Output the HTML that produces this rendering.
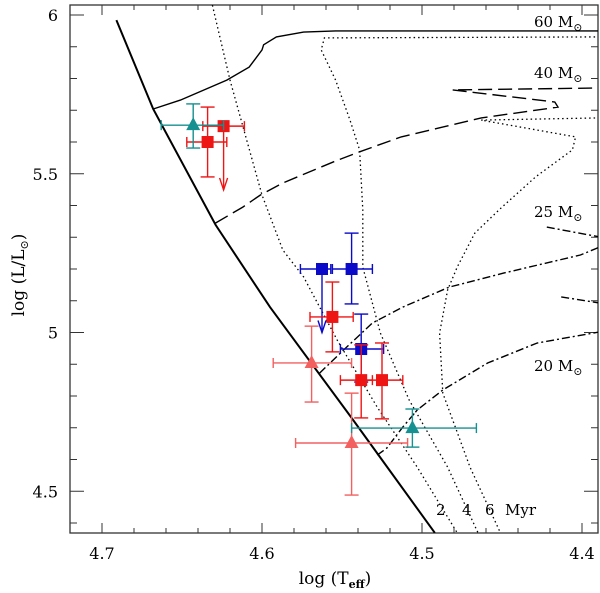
<!DOCTYPE html>
<html><head><meta charset="utf-8"><style>
body{margin:0;background:#fff}
svg{display:block;font-family:"DejaVu Serif","Liberation Serif",serif}
</style></head><body>
<svg id="c" width="600" height="593" viewBox="0 0 600 593" xmlns="http://www.w3.org/2000/svg">
<defs><clipPath id="pc"><rect x="70" y="5" width="528" height="528"/></clipPath></defs>
<g id="axes"></g>
<g id="curves" clip-path="url(#pc)"></g>
<g id="pts"></g>
<text x="534" y="27" font-size="15">60 M<tspan font-size="11" dy="4">⊙</tspan></text>
<text x="534" y="78" font-size="15">40 M<tspan font-size="11" dy="4">⊙</tspan></text>
<text x="534" y="217" font-size="15">25 M<tspan font-size="11" dy="4">⊙</tspan></text>
<text x="534" y="371" font-size="15">20 M<tspan font-size="11" dy="4">⊙</tspan></text>
<g font-size="15">
<text x="436" y="515">2</text><text x="462" y="515">4</text><text x="485" y="515">6</text><text x="505" y="515">Myr</text>
</g>
<text x="335" y="584" font-size="17" text-anchor="middle">log  (T<tspan font-size="11" dy="4" font-weight="bold">eff</tspan><tspan dy="-4">)</tspan></text>
<text transform="translate(24,275) rotate(-90)" font-size="17" text-anchor="middle">log  (L/L<tspan font-size="11" dy="4">⊙</tspan><tspan dy="-4">)</tspan></text>
</svg>
<script>
const xTicks=[4.7,4.6,4.5,4.4];
const yTicks=[6,5.5,5,4.5];
const zams=[[4.691,5.984],[4.668,5.704],[4.629,5.339],[4.595,5.080],[4.544,4.731],[4.492,4.369]];
const track60=[[4.668,5.704],[4.651,5.732],[4.622,5.795],[4.608,5.836],[4.600,5.890],[4.599,5.906],[4.591,5.931],[4.574,5.946],[4.554,5.950],[4.390,5.950]];
const track40=[[4.629,5.345],[4.612,5.395],[4.601,5.433],[4.587,5.471],[4.554,5.540],[4.539,5.569],[4.513,5.616],[4.463,5.676],[4.415,5.710],[4.417,5.726],[4.481,5.764],[4.389,5.770]];
const track25=[[4.564,4.872],[4.549,4.945],[4.531,5.030],[4.512,5.080],[4.483,5.143],[4.449,5.187],[4.401,5.244],[4.389,5.269]];
const track25b=[[4.422,5.332],[4.389,5.301]];
const track20=[[4.528,4.614],[4.522,4.636],[4.512,4.702],[4.503,4.756],[4.487,4.819],[4.459,4.904],[4.428,4.967],[4.389,5.002]];
const track20b=[[4.413,5.112],[4.389,5.093]];
const iso2=[[4.631,6.031],[4.620,5.795],[4.600,5.433],[4.587,5.260],[4.574,5.175],[4.553,4.976],[4.528,4.765],[4.503,4.576],[4.478,4.369]];
const iso4=[[4.389,5.931],[4.561,5.928],[4.563,5.890],[4.554,5.795],[4.545,5.669],[4.539,5.575],[4.537,5.386],[4.537,5.206],[4.526,4.998],[4.508,4.787],[4.484,4.576],[4.465,4.369]];
const iso6=[[4.389,5.676],[4.463,5.669],[4.404,5.616],[4.406,5.575],[4.429,5.490],[4.450,5.395],[4.467,5.313],[4.478,5.206],[4.484,5.134],[4.489,4.998],[4.487,4.809],[4.470,4.576],[4.451,4.369]];
// stars: [logT, logL, Tlo(hot), Thi(cool), Lhi, Llo, upperLimitTo or null]
const blueSquares=[[4.5625,5.200,4.576,4.557,null,null,5.00],[4.544,5.200,4.556,4.531,5.313,5.090,null],[4.538,4.948,4.551,4.524,5.058,4.844,null]];
const redSquares=[[4.556,5.049,4.570,4.543,5.159,4.939,null],[4.538,4.850,4.551,4.531,4.961,4.731,null],[4.525,4.850,4.539,4.512,4.967,4.728,null],[4.634,5.600,4.647,4.622,5.710,5.490,null],[4.624,5.650,4.637,4.611,null,null,5.449]];
const pinkTriangles=[[4.569,4.904,4.593,4.544,5.020,4.781,null],[4.544,4.652,4.579,4.509,4.809,4.488,null]];
const tealTriangles=[[4.643,5.653,4.663,4.624,5.720,5.581,null],[4.506,4.699,4.544,4.466,4.759,4.639,null]];

const NS='http://www.w3.org/2000/svg';
const X=t=>102+(4.7-t)*1600;
const Y=l=>15+(6-l)*317.5;
function mk(tag,attrs,parent){const e=document.createElementNS(NS,tag);for(const k in attrs)e.setAttribute(k,attrs[k]);parent.appendChild(e);return e;}
const ax=document.getElementById('axes');
const frame=mk('rect',{x:70,y:5,width:528,height:528,fill:'none',stroke:'#333','stroke-width':1.3},ax);


for(let i=0;i<=20;i++){const t=4.38+i*0.02;const x=X(t);if(x<71||x>597)continue;const major=Math.abs((t*10)-Math.round(t*10))<1e-6;const len=major?10:5;
 const a=mk('line',{x1:x,x2:x,y1:533,y2:533-len,stroke:'#333'},ax);
 const b=mk('line',{x1:x,x2:x,y1:5,y2:5+len,stroke:'#333'},ax);}
for(let i=0;i<=20;i++){const l=4.4+i*0.1;const y=Y(l);if(y<6||y>532)continue;const major=Math.abs(l*2-Math.round(l*2))<1e-6;const len=major?14:7;
 const a=mk('line',{x1:70,x2:70+len,y1:y,y2:y,stroke:'#333'},ax);
 const b=mk('line',{x1:598,x2:598-len,y1:y,y2:y,stroke:'#333'},ax);}
xTicks.forEach(t=>{const e=mk('text',{x:X(t),y:559,'font-size':16,'text-anchor':'middle'},ax);e.textContent=t.toFixed(1);
 });
yTicks.forEach(l=>{const e=mk('text',{x:58,y:Y(l)+6,'font-size':16,'text-anchor':'end'},ax);e.textContent=String(l);
 });

const cv=document.getElementById('curves');
function line(arr,style,name){const d=arr.map((p,i)=>(i?'L':'M')+X(p[0]).toFixed(1)+' '+Y(p[1]).toFixed(1)).join(' ');
 const e=mk('path',Object.assign({d:d,fill:'none',stroke:'#000'},style),cv);
 
 }
line(zams,{'stroke-width':2},'zams-line');
line(track60,{'stroke-width':1.4},'track-60msun');
line(track40,{'stroke-width':1.4,'stroke-dasharray':'14 6'},'track-40msun');
line(track25,{'stroke-width':1.4,'stroke-dasharray':'8 3 2 3'},'track-25msun');
line(track25b,{'stroke-width':1.4,'stroke-dasharray':'8 3 2 3'},'track-25msun-end');
line(track20,{'stroke-width':1.4,'stroke-dasharray':'8 3 2 3'},'track-20msun');
line(track20b,{'stroke-width':1.4,'stroke-dasharray':'8 3 2 3'},'track-20msun-end');
line(iso2,{'stroke-width':1.3,'stroke-dasharray':'1.5 3'},'isochrone-2myr');
line(iso4,{'stroke-width':1.3,'stroke-dasharray':'1.5 3'},'isochrone-4myr');
line(iso6,{'stroke-width':1.3,'stroke-dasharray':'1.5 3'},'isochrone-6myr');

const pg=document.getElementById('pts');
function star(s,color,shape,name){const g=mk('g',{stroke:color,fill:color,'stroke-width':1.4},pg);
 
 
 const x=X(s[0]),y=Y(s[1]),x1=X(s[2]),x2=X(s[3]);
 mk('line',{x1:x1,x2:x2,y1:y,y2:y},g);mk('line',{x1:x1,x2:x1,y1:y-5,y2:y+5},g);mk('line',{x1:x2,x2:x2,y1:y-5,y2:y+5},g);
 if(s[4]!==null){const y1=Y(s[4]),y2=Y(s[5]);mk('line',{x1:x,x2:x,y1:y1,y2:y2},g);mk('line',{x1:x-7,x2:x+7,y1:y1,y2:y1},g);mk('line',{x1:x-7,x2:x+7,y1:y2,y2:y2},g);}
 if(s[6]!==null){const ya=Y(s[6]);mk('line',{x1:x,x2:x,y1:y,y2:ya},g);mk('path',{d:`M${x-4} ${ya-12} L${x} ${ya} L${x+4} ${ya-12}`,fill:'none'},g);}
 if(shape==='sq')mk('rect',{x:x-6,y:y-6,width:12,height:12,stroke:'none'},g);
 else mk('path',{d:`M${x} ${y-8} L${x+7} ${y+5} L${x-7} ${y+5}Z`,stroke:'none'},g);}
blueSquares.forEach(s=>star(s,'#0a0ac8','sq','blue-square-star'));
redSquares.forEach(s=>star(s,'#ee1515','sq','red-square-star'));
pinkTriangles.forEach(s=>star(s,'#f26060','tri','pink-triangle-star'));
tealTriangles.forEach(s=>star(s,'#169090','tri','teal-triangle-star'));
</script>
</body></html>
